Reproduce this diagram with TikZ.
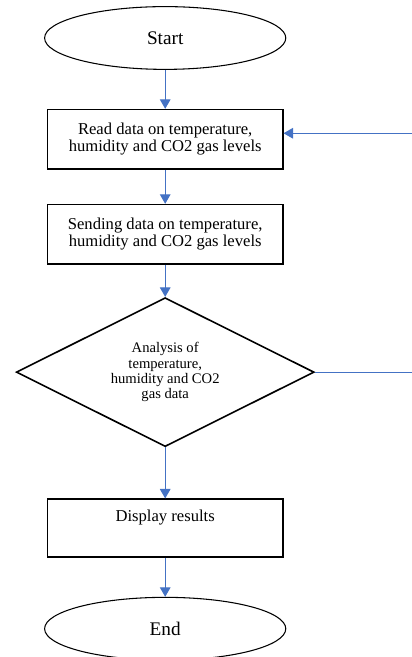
\documentclass[tikz,border=0pt]{standalone}
\usepackage{fontspec}
\setmainfont{Liberation Serif}
\usetikzlibrary{arrows.meta,positioning,shapes.geometric}
\definecolor{flowblue}{RGB}{68,114,196}

\begin{document}
\begin{tikzpicture}[
  termbox/.style={draw,thick,ellipse,minimum width=6.38cm,minimum height=1.66cm,inner sep=0pt,font=\fontsize{14.5}{15}\selectfont},
  procbox/.style={draw,line width=1.2pt,minimum width=6.22cm,minimum height=1.57cm,align=center,inner sep=2pt,font=\fontsize{12.5}{13}\selectfont},
  decbox/.style={draw,line width=1.2pt,diamond,aspect=2,minimum width=7.88cm,minimum height=3.94cm,inner sep=0pt,align=center,font=\fontsize{11}{11.5}\selectfont},
  arr/.style={-{Triangle[length=2.5mm,width=2.8mm]},line width=0.8pt,draw=flowblue,color=flowblue},
  link/.style={line width=0.8pt,draw=flowblue}
]
\useasboundingbox (0,0) rectangle (10.875,-17.38);

\node[termbox] (start) at (4.37,-1.005) {Start};
\node[procbox,below=1.03cm of start] (read) {Read data on temperature,\\humidity and CO2 gas levels};
\node[procbox,below=0.9cm of read] (send) {Sending data on temperature,\\humidity and CO2 gas levels};
\node[decbox,below=0.85cm of send] (anl) {Analysis of\\temperature,\\humidity and CO2\\gas data};
\node[procbox,below=1.35cm of anl,minimum height=1.53cm] (disp) {Display results\\[0.2cm]};
\node[termbox,below=1.03cm of disp] (end) {End};

% return path on the right
\path (read.east) ++(3.4cm,0.16cm) coordinate (fbin);

\draw[arr] (start) -- (read);
\draw[arr] (read) -- (send);
\draw[arr] (send) -- (anl);
\draw[arr] (anl) -- (disp);
\draw[arr] (disp) -- (end);
\draw[arr] (fbin) -- (fbin -| read.east);
\draw[link] (anl.east) -- (anl.east -| fbin);
\end{tikzpicture}
\end{document}
